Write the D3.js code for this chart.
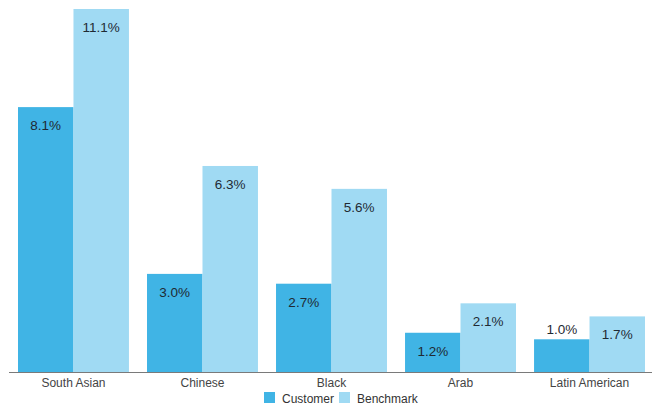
<!DOCTYPE html>
<html>
<head>
<meta charset="utf-8">
<script src="https://cdn.jsdelivr.net/npm/d3@7/dist/d3.min.js"></script>
<style>
  html, body { margin: 0; padding: 0; background: #fff; }
  svg { display: block; font-family: "Liberation Sans", Arial, Helvetica, sans-serif; }
</style>
</head>
<body>
<svg id="chart" width="652" height="406"></svg>
<script>
// Share of customers vs. benchmark by group (percent)
const categories = ["South Asian", "Chinese", "Black", "Arab", "Latin American"];
const seriesNames = ["Customer", "Benchmark"];
const customerValues = [8.1, 3.0, 2.7, 1.2, 1.0];
const benchmarkValues = [11.1, 6.3, 5.6, 2.1, 1.7];
const valueLabels = {
  Customer: ["8.1%", "3.0%", "2.7%", "1.2%", "1.0%"],
  Benchmark: ["11.1%", "6.3%", "5.6%", "2.1%", "1.7%"]
};
const colors = { Customer: "#40b4e5", Benchmark: "#a0daf3" };

const rows = categories.map((c, i) => ({
  category: c,
  values: [
    { key: "Customer", value: customerValues[i], label: valueLabels.Customer[i] },
    { key: "Benchmark", value: benchmarkValues[i], label: valueLabels.Benchmark[i] }
  ]
}));

const svg = d3.select("#chart");
const baseY = 372;

const x0 = d3.scaleBand().domain(categories).range([18, 645]).paddingInner(0.14).paddingOuter(0);
const x1 = d3.scaleBand().domain(seriesNames).range([0, x0.bandwidth()]).padding(0);
const y = d3.scaleLinear().domain([0, d3.max(benchmarkValues)]).range([baseY, 9]);

const groups = svg.append("g").selectAll("g")
  .data(rows).join("g")
  .attr("transform", d => `translate(${x0(d.category)},0)`);

groups.selectAll("rect")
  .data(d => d.values).join("rect")
  .attr("x", d => x1(d.key))
  .attr("y", d => y(d.value))
  .attr("width", x1.bandwidth())
  .attr("height", d => baseY - y(d.value))
  .attr("fill", d => colors[d.key]);

// value labels: inside the top of the bar, or just above when the bar is short
groups.selectAll("text")
  .data(d => d.values).join("text")
  .attr("x", d => x1(d.key) + x1.bandwidth() / 2)
  .attr("y", d => {
    const h = baseY - y(d.value);
    return h < 36 ? y(d.value) - 5.5 : y(d.value) + 23;
  })
  .attr("text-anchor", "middle")
  .attr("font-size", 13.5)
  .attr("fill", "#1f2a33")
  .text(d => d.label);

// category axis
const xAxis = svg.append("g").attr("transform", `translate(0,${baseY})`)
  .call(d3.axisBottom(x0).tickSize(0).tickPadding(0));
xAxis.select(".domain").remove();
xAxis.selectAll("text")
  .attr("dy", null)
  .attr("y", 15)
  .attr("font-size", 12)
  .attr("font-family", "Liberation Sans, Arial, sans-serif")
  .attr("fill", "#444");
svg.append("line")
  .attr("x1", 9).attr("x2", 652)
  .attr("y1", baseY + 0.5).attr("y2", baseY + 0.5)
  .attr("stroke", "#7a7a7a").attr("stroke-width", 1);

// legend
const legendPos = { Customer: 264, Benchmark: 339 };
const legend = svg.append("g").selectAll("g")
  .data(seriesNames).join("g")
  .attr("transform", d => `translate(${legendPos[d]},392)`);
legend.append("rect")
  .attr("width", 11).attr("height", 11)
  .attr("fill", d => colors[d]);
legend.append("text")
  .attr("x", 18).attr("y", 10.5)
  .attr("font-size", 12)
  .attr("fill", "#333")
  .text(d => d);
</script>
</body>
</html>
